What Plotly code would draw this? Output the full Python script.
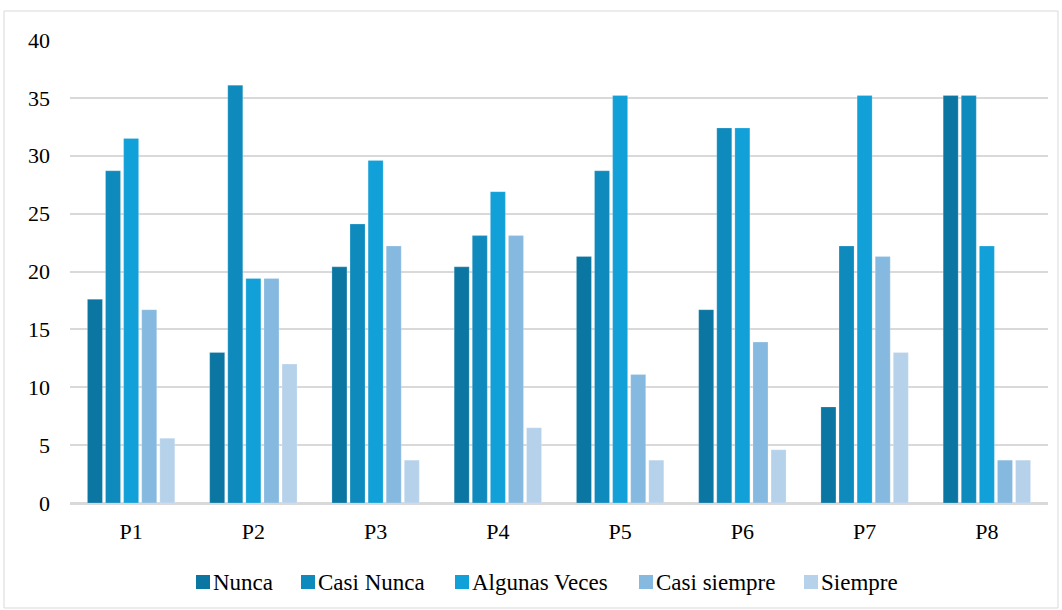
import plotly.graph_objects as go

# Survey items and response distribution (% of respondents)
categories = ["P1", "P2", "P3", "P4", "P5", "P6", "P7", "P8"]

nunca = [17.6, 13.0, 20.4, 20.4, 21.3, 16.7, 8.3, 35.2]
casi_nunca = [28.7, 36.1, 24.1, 23.1, 28.7, 32.4, 22.2, 35.2]
algunas_veces = [31.5, 19.4, 29.6, 26.9, 35.2, 32.4, 35.2, 22.2]
casi_siempre = [16.7, 19.4, 22.2, 23.1, 11.1, 13.9, 21.3, 3.7]
siempre = [5.6, 12.0, 3.7, 6.5, 3.7, 4.6, 13.0, 3.7]

series_names = ["Nunca", "Casi Nunca", "Algunas Veces", "Casi siempre", "Siempre"]
series_values = [nunca, casi_nunca, algunas_veces, casi_siempre, siempre]
colors = ["#0b76a2", "#0f8abd", "#12a0d8", "#86b9e0", "#b6d2eb"]

y_ticks = [0, 5, 10, 15, 20, 25, 30, 35, 40]

W, H = 1062, 610
ML, MR, MT, MB = 70, 14, 40, 107
PW, PH = W - ML - MR, H - MT - MB

FONT = "Liberation Serif"
FS = 22
LEG_FS = 23


def px_x(x):
    """pixel column -> paper x"""
    return (x - ML) / PW


def px_y(y):
    """pixel row -> paper y"""
    return (H - MB - y) / PH


fig = go.Figure()
for name, vals, col in zip(series_names, series_values, colors):
    fig.add_trace(go.Bar(
        x=categories, y=vals, name=name, showlegend=False,
        marker=dict(color=col, line=dict(color="rgba(255,255,255,0.35)", width=0.6)),
    ))

# outer chart border
fig.add_shape(
    type="rect", xref="paper", yref="paper",
    x0=px_x(4), x1=px_x(1058), y0=px_y(608), y1=px_y(11),
    line=dict(color="#d9d9d9", width=1), fillcolor="rgba(0,0,0,0)", layer="below",
)

# legend row below the plot: colour square followed by the series name
legend_left = [196, 301, 455, 639, 804]
sq = 14
sq_top = 575
for name, col, x0 in zip(series_names, colors, legend_left):
    fig.add_shape(
        type="rect", xref="paper", yref="paper",
        x0=px_x(x0), x1=px_x(x0 + sq), y0=px_y(sq_top + sq), y1=px_y(sq_top),
        line=dict(width=0), fillcolor=col,
    )
    fig.add_annotation(
        xref="paper", yref="paper", x=px_x(x0 + sq + 1), y=px_y(sq_top + sq / 2),
        xanchor="left", yanchor="middle", showarrow=False,
        text=name, font=dict(family=FONT, size=LEG_FS, color="#000000"),
    )

fig.update_layout(
    width=W, height=H,
    margin=dict(l=ML, r=MR, t=MT, b=MB),
    paper_bgcolor="white", plot_bgcolor="white",
    barmode="group", bargap=0.26, bargroupgap=0.17,
    font=dict(family=FONT, size=FS, color="#000000"),
    showlegend=False,
)
fig.update_xaxes(
    showgrid=False, showline=True, linecolor="#d9d9d9", linewidth=1.5,
    ticks="", ticklabelstandoff=8,
    tickfont=dict(family=FONT, size=FS, color="#000000"),
)
fig.update_yaxes(
    range=[0, 40], tickvals=y_ticks,
    showgrid=True, gridcolor="#d9d9d9", gridwidth=1.5,
    zeroline=True, zerolinecolor="#d9d9d9", zerolinewidth=1.5,
    showline=False, ticks="", ticklabelstandoff=19,
    tickfont=dict(family=FONT, size=FS, color="#000000"),
)

fig.write_html("out.html")
